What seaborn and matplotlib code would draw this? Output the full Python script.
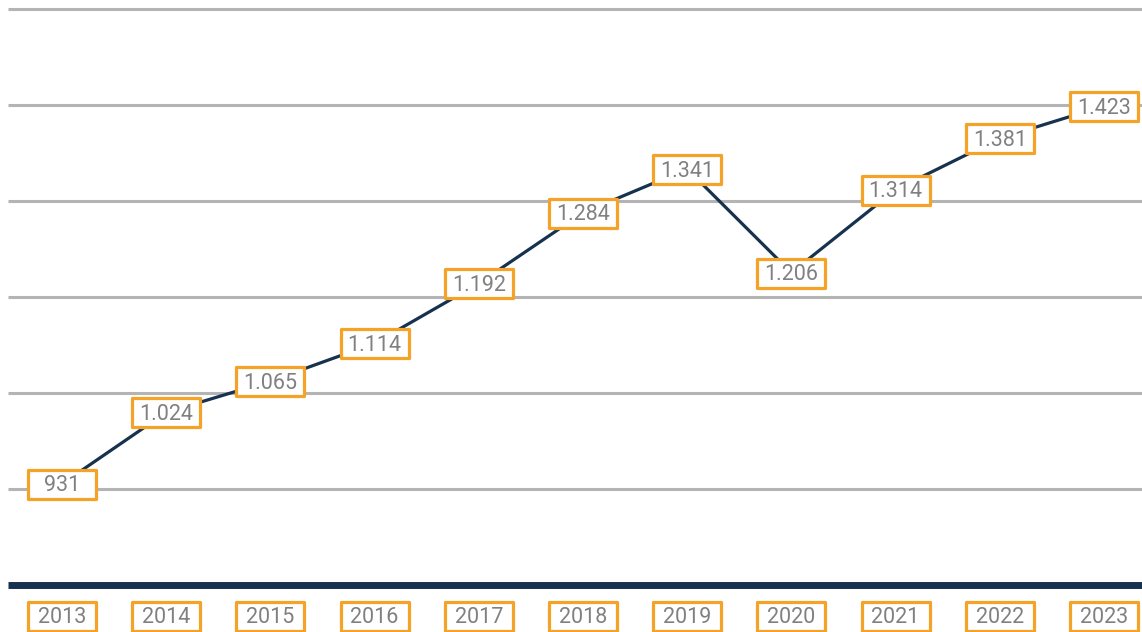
import matplotlib.pyplot as plt
import seaborn as sns
from matplotlib.path import Path

years = ['2013', '2014', '2015', '2016', '2017', '2018',
         '2019', '2020', '2021', '2022', '2023']
values = [931, 1024, 1065, 1114, 1192, 1284, 1341, 1206, 1314, 1381, 1423]
grid_values = [925, 1050, 1175, 1300, 1425, 1550]

navy = '#17324f'
orange = '#f5a228'
grey_text = '#808080'
grid_grey = '#b4b4b4'

sns.set_theme(style='white')
plt.rcParams['font.family'] = ['Roboto', 'DejaVu Sans']

fig = plt.figure(figsize=(11.42, 6.32), dpi=100)
ax = fig.add_axes([8 / 1142, 47.5 / 632, 1134 / 1142, 576 / 632])

pos = list(range(len(years)))

# gridlines + heavy baseline
for g in grid_values:
    ax.axhline(g, color=grid_grey, lw=2.2, clip_on=False, zorder=1,
               solid_capstyle='butt')
ax.axhline(800, color=navy, lw=5, clip_on=False, zorder=2,
           solid_capstyle='butt')

sns.lineplot(x=pos, y=values, ax=ax, color=navy, lw=2.3, zorder=3)

# box-shaped marker for the labels
bw, bh = 68, 29
box = Path([(-bw / 2, -bh / 2), (bw / 2, -bh / 2), (bw / 2, bh / 2),
            (-bw / 2, bh / 2), (-bw / 2, -bh / 2)],
           [Path.MOVETO, Path.LINETO, Path.LINETO, Path.LINETO, Path.CLOSEPOLY])
msize = (bw * 72 / 100) ** 2

ax.scatter(pos, values, marker=box, s=msize, facecolor='white',
           edgecolor=orange, linewidth=2.3, zorder=4, clip_on=False)
for x, v in zip(pos, values):
    ax.annotate(f'{v:,}'.replace(',', '.'), (x, v), xytext=(0, -1.5),
                textcoords='offset points', ha='center', va='center',
                fontsize=15.5, color=grey_text, zorder=5)

# year labels under the axis
ylab = -31 / 576
xt = ax.get_xaxis_transform()
ax.scatter(pos, [ylab] * len(pos), marker=box, s=msize, facecolor='white',
           edgecolor=orange, linewidth=2.3, zorder=4, clip_on=False,
           transform=xt)
for x, yr in zip(pos, years):
    ax.annotate(yr, (x, ylab), xycoords=xt, xytext=(0, -1.5),
                textcoords='offset points', ha='center', va='center',
                fontsize=15.5, color=grey_text, zorder=5,
                annotation_clip=False)

ax.set_xlim(-0.518, 10.365)
ax.set_ylim(800, 1550)
ax.set_xticks([])
ax.set_yticks([])
ax.set_xlabel('')
ax.set_ylabel('')
sns.despine(ax=ax, left=True, bottom=True)

fig.savefig('out.png', dpi=100)
